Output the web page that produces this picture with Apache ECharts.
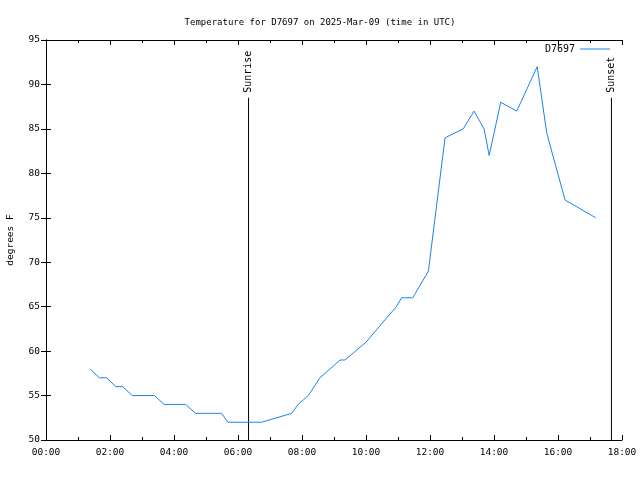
<!DOCTYPE html>
<html><head><meta charset="utf-8">
<script src="https://cdn.jsdelivr.net/npm/echarts@6/dist/echarts.min.js"></script>
<style>html,body{margin:0;padding:0;background:#fff}#c{width:640px;height:480px}</style>
</head><body><div id="c"></div>
<script>
const titleText = 'Temperature for D7697 on 2025-Mar-09 (time in UTC)';
const seriesName = 'D7697';
const yAxisName = 'degrees F';
// time in decimal hours (UTC)
const times = [1.375, 1.67, 1.9, 2.18, 2.39, 2.70, 3.39, 3.69, 4.36, 4.68, 5.49, 5.68, 6.74, 7.68, 7.88, 8.2, 8.56, 8.72, 9.19, 9.34, 10.0, 10.47, 10.95, 11.11, 11.46, 11.95, 12.47, 13.04, 13.375, 13.69, 13.85, 14.21, 14.71, 15.35, 15.65, 16.22, 17.18];
const temps = [58, 57, 57, 56, 56, 55, 55, 54, 54, 53, 53, 52, 52, 53, 54, 55, 57, 57.5, 59, 59, 61, 63, 65, 66, 66, 69, 84, 85, 87, 85, 82, 88, 87, 92, 84.5, 77, 75];
const sunLabels = ['Sunrise', 'Sunset'];
const sunTimes = [6.33, 17.67];
const sunLineTop = 88.5;
const xTickLabels = ['00:00','02:00','04:00','06:00','08:00','10:00','12:00','14:00','16:00','18:00'];
const yMin = 50, yMax = 95, yStep = 5;
const xMin = 0, xMax = 18, xStep = 2;

const font = 'DejaVu Sans Mono';
const chart = echarts.init(document.getElementById('c'), null, {renderer: 'canvas'});
const lineData = times.map((t, i) => [t, temps[i]]);

const sunSeries = sunLabels.map((lab, i) => ({
  type: 'line', name: lab, silent: true, symbol: 'circle', symbolSize: 0, showSymbol: true,
  xAxisIndex: 0, yAxisIndex: 0,
  lineStyle: {color: '#000', width: 1},
  itemStyle: {color: '#000'},
  data: [
    [sunTimes[i], yMin],
    {value: [sunTimes[i], sunLineTop], label: {show: true, formatter: lab, position: 'top', distance: 5, rotate: 90, align: 'left', verticalAlign: 'middle', color: '#000', fontFamily: font, fontSize: 10}}
  ],
  animation: false, z: 3
}));

const tickCommon = {
  axisLine: {show: true, lineStyle: {color: '#000', width: 1}},
  axisTick: {show: true, inside: true, length: 5, lineStyle: {color: '#000'}},
  splitLine: {show: false}
};

chart.setOption({
  animation: false,
  backgroundColor: '#fff',
  title: {text: titleText, left: 'center', top: 13, textStyle: {fontFamily: font, fontSize: 9, fontWeight: 'normal', color: '#000'}},
  legend: {data: [seriesName], right: 30, top: 44, padding: 0, icon: 'rect', itemWidth: 30, itemHeight: 1, align: 'right',
    textStyle: {fontFamily: font, fontSize: 10, color: '#000'}},
  grid: {left: 46, right: 18, top: 40, bottom: 40, containLabel: false, outerBoundsMode: 'none'},
  xAxis: [
    Object.assign({type: 'value', min: xMin, max: xMax, interval: xStep, position: 'bottom',
      minorTick: {show: true, splitNumber: 2, length: 3, lineStyle: {color: '#000'}},
      axisLabel: {margin: 8, fontFamily: font, fontSize: 9.5, color: '#000',
        formatter: v => xTickLabels[Math.round((v - xMin) / xStep)]}}, tickCommon),
    Object.assign({type: 'value', min: xMin, max: xMax, interval: xStep, position: 'top',
      minorTick: {show: true, splitNumber: 2, length: 3, lineStyle: {color: '#000'}},
      axisLabel: {show: false}}, tickCommon)
  ],
  yAxis: [
    Object.assign({type: 'value', min: yMin, max: yMax, interval: yStep, position: 'left',
      name: yAxisName, nameLocation: 'middle', nameGap: 30, nameRotate: 90,
      nameTextStyle: {fontFamily: font, fontSize: 9.5, color: '#000'},
      axisLabel: {margin: 6, fontFamily: font, fontSize: 9.5, color: '#000'}}, tickCommon),
    Object.assign({type: 'value', min: yMin, max: yMax, interval: yStep, position: 'right',
      axisLabel: {show: false}}, tickCommon)
  ],
  series: [
    {type: 'line', name: seriesName, data: lineData, symbol: 'none', color: '#1a84f0',
      lineStyle: {color: '#1a84f0', width: 1}, z: 4}
  ].concat(sunSeries)
});
</script></body></html>
